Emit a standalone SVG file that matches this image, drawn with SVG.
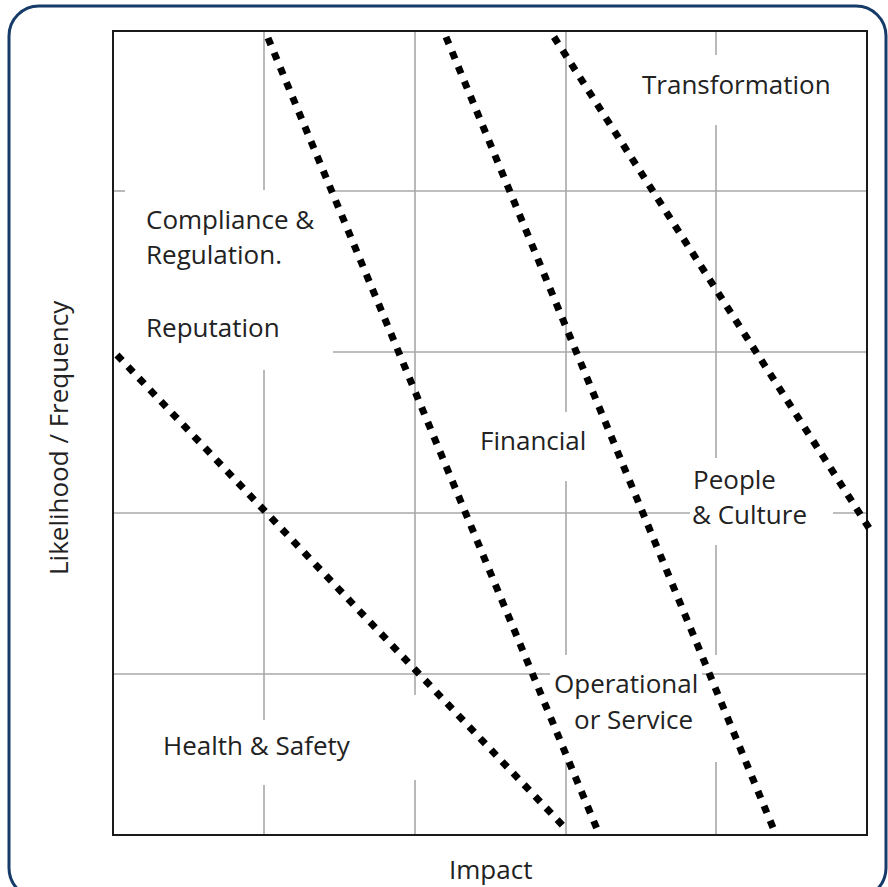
<svg xmlns="http://www.w3.org/2000/svg" width="888" height="887" viewBox="0 0 888 887">
  <style>
    .frame { fill: #ffffff; stroke: #173b69; stroke-width: 3; }
    .plot { fill: none; stroke: #1a1a1a; stroke-width: 2; }
    .grid line { stroke: #a8a8a8; stroke-width: 1.6; }
    .band { fill: none; stroke: #000000; stroke-width: 7; stroke-dasharray: 7.5 8.5; stroke-linecap: butt; }
    .lbl { font-family: "Open Sans", "Liberation Sans", sans-serif; font-size: 26px; fill: #222222; }
  </style>

  <!-- outer rounded frame -->
  <rect class="frame" x="9" y="6" width="877" height="892" rx="30" ry="30"/>

  <!-- plot background -->
  <rect x="113" y="31" width="754" height="804" fill="#ffffff"/>

  <!-- grid, broken where labels sit -->
  <g class="grid">
    <line x1="264" y1="31" x2="264" y2="190"/>
    <line x1="264" y1="370" x2="264" y2="720"/>
    <line x1="264" y1="785" x2="264" y2="835"/>

    <line x1="415" y1="31" x2="415" y2="695"/>
    <line x1="415" y1="780" x2="415" y2="835"/>

    <line x1="566" y1="31" x2="566" y2="412"/>
    <line x1="566" y1="481" x2="566" y2="655"/>
    <line x1="566" y1="762" x2="566" y2="835"/>

    <line x1="716" y1="31" x2="716" y2="55"/>
    <line x1="716" y1="125" x2="716" y2="458"/>
    <line x1="716" y1="545" x2="716" y2="655"/>
    <line x1="716" y1="762" x2="716" y2="835"/>

    <line x1="113" y1="191" x2="125" y2="191"/>
    <line x1="335" y1="191" x2="867" y2="191"/>

    <line x1="333" y1="352" x2="867" y2="352"/>

    <line x1="113" y1="513" x2="690" y2="513"/>
    <line x1="833" y1="513" x2="867" y2="513"/>

    <line x1="113" y1="674" x2="550" y2="674"/>
    <line x1="702" y1="674" x2="867" y2="674"/>
  </g>

  <!-- plot border -->
  <rect class="plot" x="113" y="31" width="754" height="804"/>

  <!-- dotted band boundaries -->
  <g id="connectors">
    <line class="band" x1="117" y1="355" x2="567" y2="830"/>
    <line class="band" x1="268" y1="38" x2="597" y2="829"/>
    <line class="band" x1="446" y1="37" x2="774" y2="830"/>
    <line class="band" x1="554" y1="37" x2="869" y2="528"/>
  </g>

  <!-- category labels -->
  <g id="transformation">
    <text class="lbl" x="642" y="94">Transformation</text>
  </g>
  <g id="compliance">
    <text class="lbl" x="146" y="229">Compliance &amp;</text>
    <text class="lbl" x="146" y="264">Regulation.</text>
  </g>
  <g id="reputation">
    <text class="lbl" x="146" y="337">Reputation</text>
  </g>
  <g id="financial">
    <text class="lbl" x="480" y="450">Financial</text>
  </g>
  <g id="people-culture">
    <text class="lbl" x="693" y="489">People</text>
    <text class="lbl" x="692" y="524">&amp; Culture</text>
  </g>
  <g id="operational">
    <text class="lbl" x="554" y="693">Operational</text>
    <text class="lbl" x="574" y="729">or Service</text>
  </g>
  <g id="health-safety">
    <text class="lbl" x="163" y="755">Health &amp; Safety</text>
  </g>

  <!-- axis titles -->
  <g id="axis-x">
    <text class="lbl" x="449" y="879">Impact</text>
  </g>
  <g id="axis-y">
    <text class="lbl" transform="translate(68 575) rotate(-90)">Likelihood / Frequency</text>
  </g>
</svg>
